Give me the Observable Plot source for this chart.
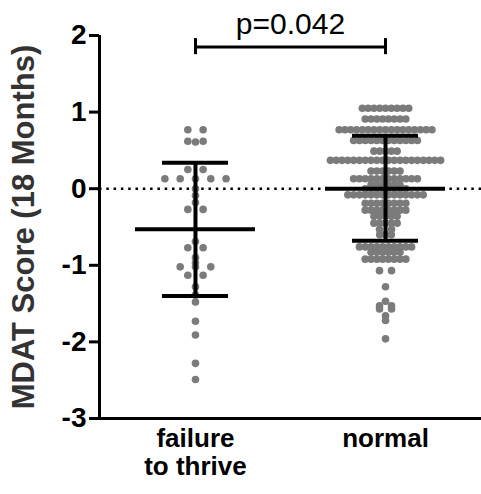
<!DOCTYPE html>
<html><head><meta charset="utf-8">
<script src="https://cdn.jsdelivr.net/npm/d3@7"></script>
<script src="https://cdn.jsdelivr.net/npm/@observablehq/plot@0.6"></script>
<style>body{margin:0;background:#fff}</style>
</head><body><div id="chart"></div>
<script>
// ---- data ----
const groups = ["failure to thrive", "normal"];
const groupLabels = ["failure\nto thrive", "normal"];
const failureValues = [
  0.77, 0.77,
  0.62, 0.62, 0.61,
  0.25, 0.25,
  0.13, 0.13, 0.13, 0.13, 0.13,
  0.0, -0.09, -0.18,
  -0.27, -0.27,
  -0.69,
  -0.77, -0.77,
  -0.90, -0.97,
  -1.02, -1.02, -1.02,
  -1.13, -1.13,
  -1.28, -1.39, -1.48, -1.73, -1.91, -2.28, -2.49
];
const normalValues = [
  1.05, 1.05, 1.05, 1.05, 1.05, 1.05, 1.05, 1.05, 1.05,
  0.91, 0.91, 0.91, 0.91, 0.91, 0.91, 0.91, 0.91,
  0.77, 0.77, 0.77, 0.77, 0.77, 0.77, 0.77, 0.77, 0.77, 0.77, 0.77, 0.77, 0.77, 0.77, 0.77, 0.77, 0.77,
  0.63, 0.63, 0.63, 0.63, 0.63, 0.63, 0.63, 0.63, 0.63, 0.63, 0.63, 0.63,
  0.49, 0.49, 0.49, 0.49, 0.49,
  0.37, 0.37, 0.37, 0.37, 0.37, 0.37, 0.37, 0.37, 0.37, 0.37, 0.37, 0.37, 0.37, 0.37, 0.37, 0.37, 0.37, 0.37, 0.37, 0.37,
  0.23, 0.23, 0.23, 0.23, 0.23, 0.23,
  0.13, 0.13, 0.13, 0.13, 0.13, 0.13, 0.13, 0.13, 0.13, 0.13, 0.13, 0.13,
  0.05, 0.05, 0.05, 0.05, 0.05, 0.05,
  0.0, 0.0, 0.0, 0.0, 0.0, 0.0, 0.0, 0.0,
  -0.08, -0.08, -0.08, -0.08, -0.08, -0.08, -0.08, -0.08, -0.08, -0.08, -0.08, -0.08, -0.08, -0.08,
  -0.19, -0.19, -0.19, -0.19, -0.19, -0.19, -0.19, -0.19,
  -0.28, -0.28, -0.28, -0.28, -0.28, -0.28, -0.28, -0.28,
  -0.36, -0.36, -0.36, -0.36, -0.36,
  -0.45, -0.45, -0.45, -0.45, -0.45,
  -0.53, -0.53,
  -0.60, -0.60, -0.60,
  -0.76, -0.76, -0.76, -0.76, -0.76, -0.76, -0.76, -0.76, -0.76, -0.76,
  -0.83, -0.83, -0.83, -0.83, -0.83, -0.83,
  -0.92, -0.92, -0.92, -0.92, -0.92, -0.92, -0.92, -0.92,
  -1.07, -1.07,
  -1.28, -1.47, -1.53, -1.53, -1.57, -1.57, -1.66, -1.72, -1.96
];
const groupMean  = [-0.53, 0.00];
const groupUpper = [0.34, 0.69];
const groupLower = [-1.40, -0.68];
const pLabel = "p=0.042";
const yTicks = [-3, -2, -1, 0, 1, 2];
const yTitle = "MDAT Score (18 Months)";

// ---- layout helpers (sizes, not data) ----
const W = 481, H = 494, mL = 99, mR = 0, mT = 35, mB = 76;
const xDomain = [-0.505, 1.505];
const pxPerUnit = (W - mL - mR) / (xDomain[1] - xDomain[0]);
const spacingPx = [15.3, 5.8];
const meanHalf = 60 / pxPerUnit, capHalf = 33 / pxPerUnit;

function rowLayout(values, g) {
  const rows = d3.group(values, v => v);
  const out = [];
  for (const [v, arr] of rows) {
    const n = arr.length;
    // sparse rows in the dense column are spread a little wider, as in the reference
    const sp = (g === 1 && n <= 2) ? 12 : spacingPx[g];
    arr.forEach((_, i) => out.push({
      group: groups[g],
      x: g + (i - (n - 1) / 2) * sp / pxPerUnit,
      y: v
    }));
  }
  return out;
}
const points = [...rowLayout(failureValues, 0), ...rowLayout(normalValues, 1)];
const stats = groups.map((name, g) => ({g, mean: groupMean[g], upper: groupUpper[g], lower: groupLower[g]}));
const bracketY = 1.85, bracketCap = [1.75, 1.96];

const chart = Plot.plot({
  width: W, height: H,
  marginLeft: mL, marginRight: mR, marginTop: mT, marginBottom: mB,
  x: {domain: xDomain, axis: null},
  y: {domain: [-3, 2], axis: null},
  style: {fontFamily: "Liberation Sans, Arial, sans-serif", fontWeight: "bold", background: "white", overflow: "visible", color: "black"},
  marks: [
    Plot.ruleY([0], {x1: xDomain[0], x2: xDomain[1], stroke: "black", strokeWidth: 2.6, strokeDasharray: "2.5 4.8"}),
    Plot.dot(points, {x: "x", y: "y", r: 3.8, fill: "#7b7b7b", stroke: "none"}),
    Plot.ruleX(stats, {x: "g", y1: "lower", y2: "upper", stroke: "black", strokeWidth: 4}),
    Plot.ruleY(stats, {y: "mean", x1: d => d.g - meanHalf, x2: d => d.g + meanHalf, stroke: "black", strokeWidth: 4}),
    Plot.ruleY(stats, {y: "upper", x1: d => d.g - capHalf, x2: d => d.g + capHalf, stroke: "black", strokeWidth: 4}),
    Plot.ruleY(stats, {y: "lower", x1: d => d.g - capHalf, x2: d => d.g + capHalf, stroke: "black", strokeWidth: 4}),
    // axes
    Plot.ruleX([xDomain[0]], {y1: -3, y2: 2, stroke: "black", strokeWidth: 3}),
    Plot.ruleY([-3], {x1: xDomain[0], x2: xDomain[1], stroke: "black", strokeWidth: 3}),
    Plot.axisY({ticks: yTicks, tickFormat: d => String(d), tickSize: 10, tickPadding: 3, fontSize: 28, fontWeight: "bold", strokeWidth: 3}),
    Plot.axisX({ticks: [0, 1], tickFormat: i => groupLabels[i], tickSize: 0, tickPadding: 9, fontSize: 26, fontWeight: "bold", lineHeight: 1.06}),
    Plot.text([yTitle], {frameAnchor: "left", dx: -75, rotate: -90, textAnchor: "middle", lineAnchor: "middle", fontSize: 31, fontWeight: "bold", fill: "#333"}),
    // significance bracket
    Plot.ruleY([bracketY], {x1: 0, x2: 1, stroke: "black", strokeWidth: 3}),
    Plot.ruleX([0, 1], {y1: bracketCap[0], y2: bracketCap[1], stroke: "black", strokeWidth: 3}),
    Plot.text([pLabel], {x: 0.5, y: bracketY, dy: -13, lineAnchor: "bottom", fontSize: 30, fontWeight: "normal", fill: "black"})
  ]
});
document.getElementById("chart").append(chart);
</script>
</body></html>
